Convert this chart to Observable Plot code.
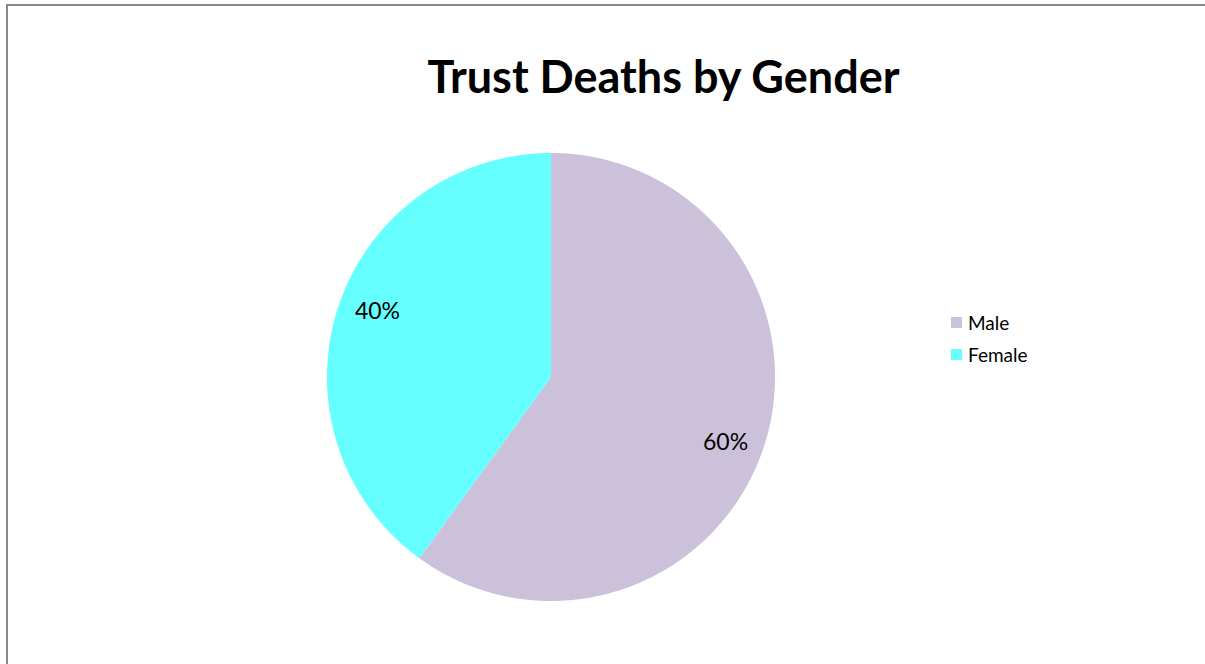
<!DOCTYPE html>
<html>
<head>
<meta charset="utf-8">
<script src="https://cdn.jsdelivr.net/npm/d3@7"></script>
<script src="https://cdn.jsdelivr.net/npm/@observablehq/plot@0.6"></script>
<style>
  html, body { margin: 0; padding: 0; background: #fff; overflow: hidden; }
  #frame { position: absolute; left: 6px; top: 4px; width: 1260px; height: 720px; border: 2px solid #898989; box-sizing: border-box; }
  #title { position: absolute; left: 0; width: 1327px; top: 48px; text-align: center; font-family: Lato, "Open Sans", sans-serif; font-weight: bold; font-size: 45px; color: #000; line-height: 56px; }
  #chart { position: absolute; left: 0; top: 0; }
  #legend { position: absolute; left: 951px; top: 306px; font-family: Lato, "Open Sans", sans-serif; font-size: 19px; color: #000; }
  .item { display: flex; align-items: center; height: 32px; }
  .sw { width: 11px; height: 11px; margin-right: 6px; }
</style>
</head>
<body>
<div id="frame"></div>
<div id="title">Trust Deaths by Gender</div>
<div id="chart"></div>
<div id="legend"></div>
<script>
const categories = ["Male", "Female"];
const values = [60, 40];
const labels = ["60%", "40%"];
const colors = ["#CCC1DA", "#66FFFF"];

const arcs = d3.pie().sort(null).value((d, i) => values[i])(categories);

const points = arcs.flatMap((a, i) => {
  const n = Math.ceil((a.endAngle - a.startAngle) / 0.004);
  return d3.range(n + 1).map(k => {
    const t = a.startAngle + (a.endAngle - a.startAngle) * k / n;
    return {cat: categories[i], x: Math.sin(t), y: Math.cos(t)};
  });
});

const labelShift = 2.6 * Math.PI / 180;
const labelData = arcs.map((a, i) => {
  const m = (a.startAngle + a.endAngle) / 2 + labelShift;
  return {text: labels[i], x: 0.83 * Math.sin(m), y: 0.83 * Math.cos(m)};
});

const plot = Plot.plot({
  width: 1205,
  height: 664,
  marginLeft: 327,
  marginRight: 430,
  marginTop: 153,
  marginBottom: 63,
  x: {domain: [-1, 1], axis: null},
  y: {domain: [-1, 1], axis: null},
  color: {domain: categories, range: colors},
  style: {background: "transparent", overflow: "visible"},
  marks: [
    Plot.area(points, {x1: () => 0, y1: () => 0, x2: "x", y2: "y", z: "cat", fill: "cat"}),
    Plot.text(labelData, {x: "x", y: "y", text: "text", fontSize: 23, fontFamily: "Lato, 'Open Sans', sans-serif", fill: "#000"})
  ]
});
document.getElementById("chart").appendChild(plot);

const legend = document.getElementById("legend");
categories.forEach((c, i) => {
  const it = document.createElement("div");
  it.className = "item";
  const sw = document.createElement("div");
  sw.className = "sw";
  sw.style.background = colors[i];
  const tx = document.createElement("span");
  tx.textContent = c;
  it.appendChild(sw);
  it.appendChild(tx);
  legend.appendChild(it);
});
</script>
</body>
</html>
